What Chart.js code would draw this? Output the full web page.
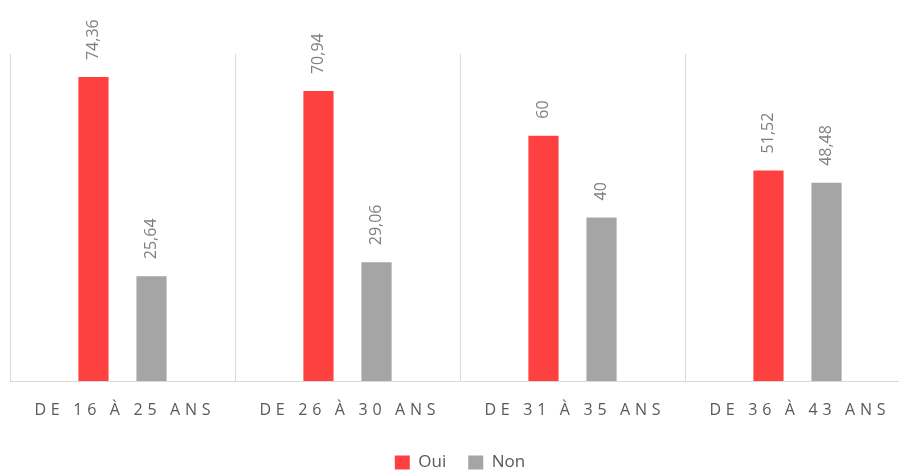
<!DOCTYPE html>
<html>
<head>
<meta charset="utf-8">
<script src="https://cdn.jsdelivr.net/npm/chart.js@4/dist/chart.umd.min.js"></script>
<style>
  html, body { margin: 0; padding: 0; background: #fff; overflow: hidden; }
  #wrap { width: 920px; height: 481px; }
</style>
</head>
<body>
<div id="wrap"><canvas id="myChart" width="920" height="481"></canvas></div>
<script>
const categories = ["DE 16 À 25 ANS", "DE 26 À 30 ANS", "DE 31 À 35 ANS", "DE 36 À 43 ANS"];
const ouiValues = [74.36, 70.94, 60, 51.52];
const nonValues = [25.64, 29.06, 40, 48.48];

// etiquettes des valeurs, verticales, au-dessus des barres
const valueLabels = {
  id: "valueLabels",
  afterDatasetsDraw(chart) {
    const ctx = chart.ctx;
    chart.data.datasets.forEach((ds, di) => {
      chart.getDatasetMeta(di).data.forEach((bar, i) => {
        ctx.save();
        ctx.translate(bar.x, bar.y - 17);
        ctx.rotate(-Math.PI / 2);
        ctx.font = "16px 'Open Sans'";
        ctx.fillStyle = "#7f7f7f";
        ctx.textAlign = "left";
        ctx.textBaseline = "middle";
        ctx.fillText(String(ds.data[i]).replace(".", ","), 0, 0);
        ctx.restore();
      });
    });
  },
};

// libellés de l'axe x avec espacement des lettres
const spacedTicks = {
  id: "spacedTicks",
  afterDraw(chart) {
    const ctx = chart.ctx;
    const x = chart.scales.x;
    const sp = 4.7;
    ctx.save();
    ctx.font = "16px 'Open Sans'";
    ctx.fillStyle = "#595959";
    ctx.textAlign = "center";
    ctx.textBaseline = "middle";
    ctx.letterSpacing = sp + "px";
    categories.forEach((c, i) => {
      ctx.fillText(c, x.getPixelForValue(i) + sp / 2, chart.chartArea.bottom + 29);
    });
    ctx.restore();
  },
};

new Chart("myChart", {
  type: "bar",
  data: {
    labels: categories,
    datasets: [
      {
        label: "Oui",
        data: ouiValues,
        backgroundColor: "#ff4040",
        categoryPercentage: 0.516,
        barPercentage: 0.52,
      },
      {
        label: "Non",
        data: nonValues,
        backgroundColor: "#a5a5a5",
        categoryPercentage: 0.516,
        barPercentage: 0.52,
      },
    ],
  },
  options: {
    responsive: false,
    animation: false,
    devicePixelRatio: 1,
    layout: {
      padding: { left: 10, right: 10, top: 54, bottom: 0 },
    },
    scales: {
      x: {
        grid: { color: "#d9d9d9", offset: true, drawTicks: false },
        border: { color: "#d9d9d9" },
        ticks: {
          color: "transparent",
          padding: 16.5,
          font: { family: "Open Sans", size: 15 },
        },
      },
      y: {
        display: false,
        min: 0,
        max: 80,
      },
    },
    plugins: {
      legend: {
        position: "bottom",
        labels: {
          boxWidth: 15,
          boxHeight: 14,
          padding: 22,
          color: "#595959",
          font: { family: "Open Sans", size: 17 },
        },
      },
      tooltip: { enabled: false },
    },
  },
  plugins: [valueLabels, spacedTicks],
});
</script>
</body>
</html>
